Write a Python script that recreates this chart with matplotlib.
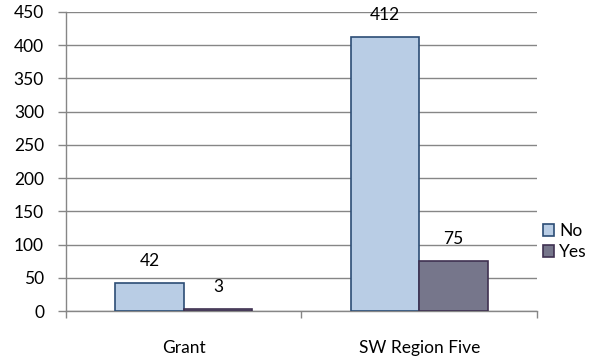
import matplotlib.pyplot as plt
import numpy as np

categories = ['Grant', 'SW Region Five']
no_values = [42, 412]
yes_values = [3, 75]
y_ticks = [0, 50, 100, 150, 200, 250, 300, 350, 400, 450]

plt.rcParams['font.family'] = ['Lato', 'DejaVu Sans']
fs = 12.5

fig = plt.figure(figsize=(5.95, 3.64), dpi=100)
ax = fig.add_axes([66 / 595, 1 - 311 / 364, (537 - 66) / 595, (311 - 12) / 364])

x = np.arange(len(categories))
width = 0.29

bars_no = ax.bar(x - width / 2, no_values, width, color='#B9CDE5',
                 edgecolor='#2C4D75', linewidth=1.2, label='No', zorder=3)
bars_yes = ax.bar(x + width / 2, yes_values, width, color='#76768B',
                  edgecolor='#3F3151', linewidth=1.2, label='Yes', zorder=3)

for bars in (bars_no, bars_yes):
    for b in bars:
        ax.annotate(f'{int(b.get_height())}',
                    (b.get_x() + b.get_width() / 2, b.get_height()),
                    xytext=(0, 10), textcoords='offset points',
                    ha='center', va='bottom', fontsize=fs, color='#000000',
                    zorder=4, annotation_clip=False)

ax.set_xlim(-0.5, len(categories) - 0.5)
ax.set_ylim(0, 450)
ax.set_yticks(y_ticks)
ax.tick_params(axis='y', length=5.8, width=1, color='#868686', labelsize=fs, pad=10)

# x ticks at category boundaries, labels centered
ax.set_xticks([-0.5, 0.5, 1.5])
ax.set_xticklabels([])
ax.set_xticks(x, minor=True)
ax.set_xticklabels(categories, minor=True)
ax.tick_params(axis='x', which='major', length=5, width=1, color='#868686')
ax.tick_params(axis='x', which='minor', length=0, labelsize=fs, pad=21)

ax.grid(axis='y', color='#868686', linewidth=1)
ax.set_axisbelow(True)
for side in ('top', 'right'):
    ax.spines[side].set_visible(False)
for side in ('left', 'bottom'):
    ax.spines[side].set_color('#868686')
    ax.spines[side].set_linewidth(1)

ax.legend(loc='center left', bbox_to_anchor=(1.008, 0.232), frameon=False,
          fontsize=fs, handlelength=0.65, handleheight=0.65, handletextpad=0.3,
          labelspacing=0.3, borderaxespad=0.1, borderpad=0)

plt.savefig('out.png', dpi=100)
